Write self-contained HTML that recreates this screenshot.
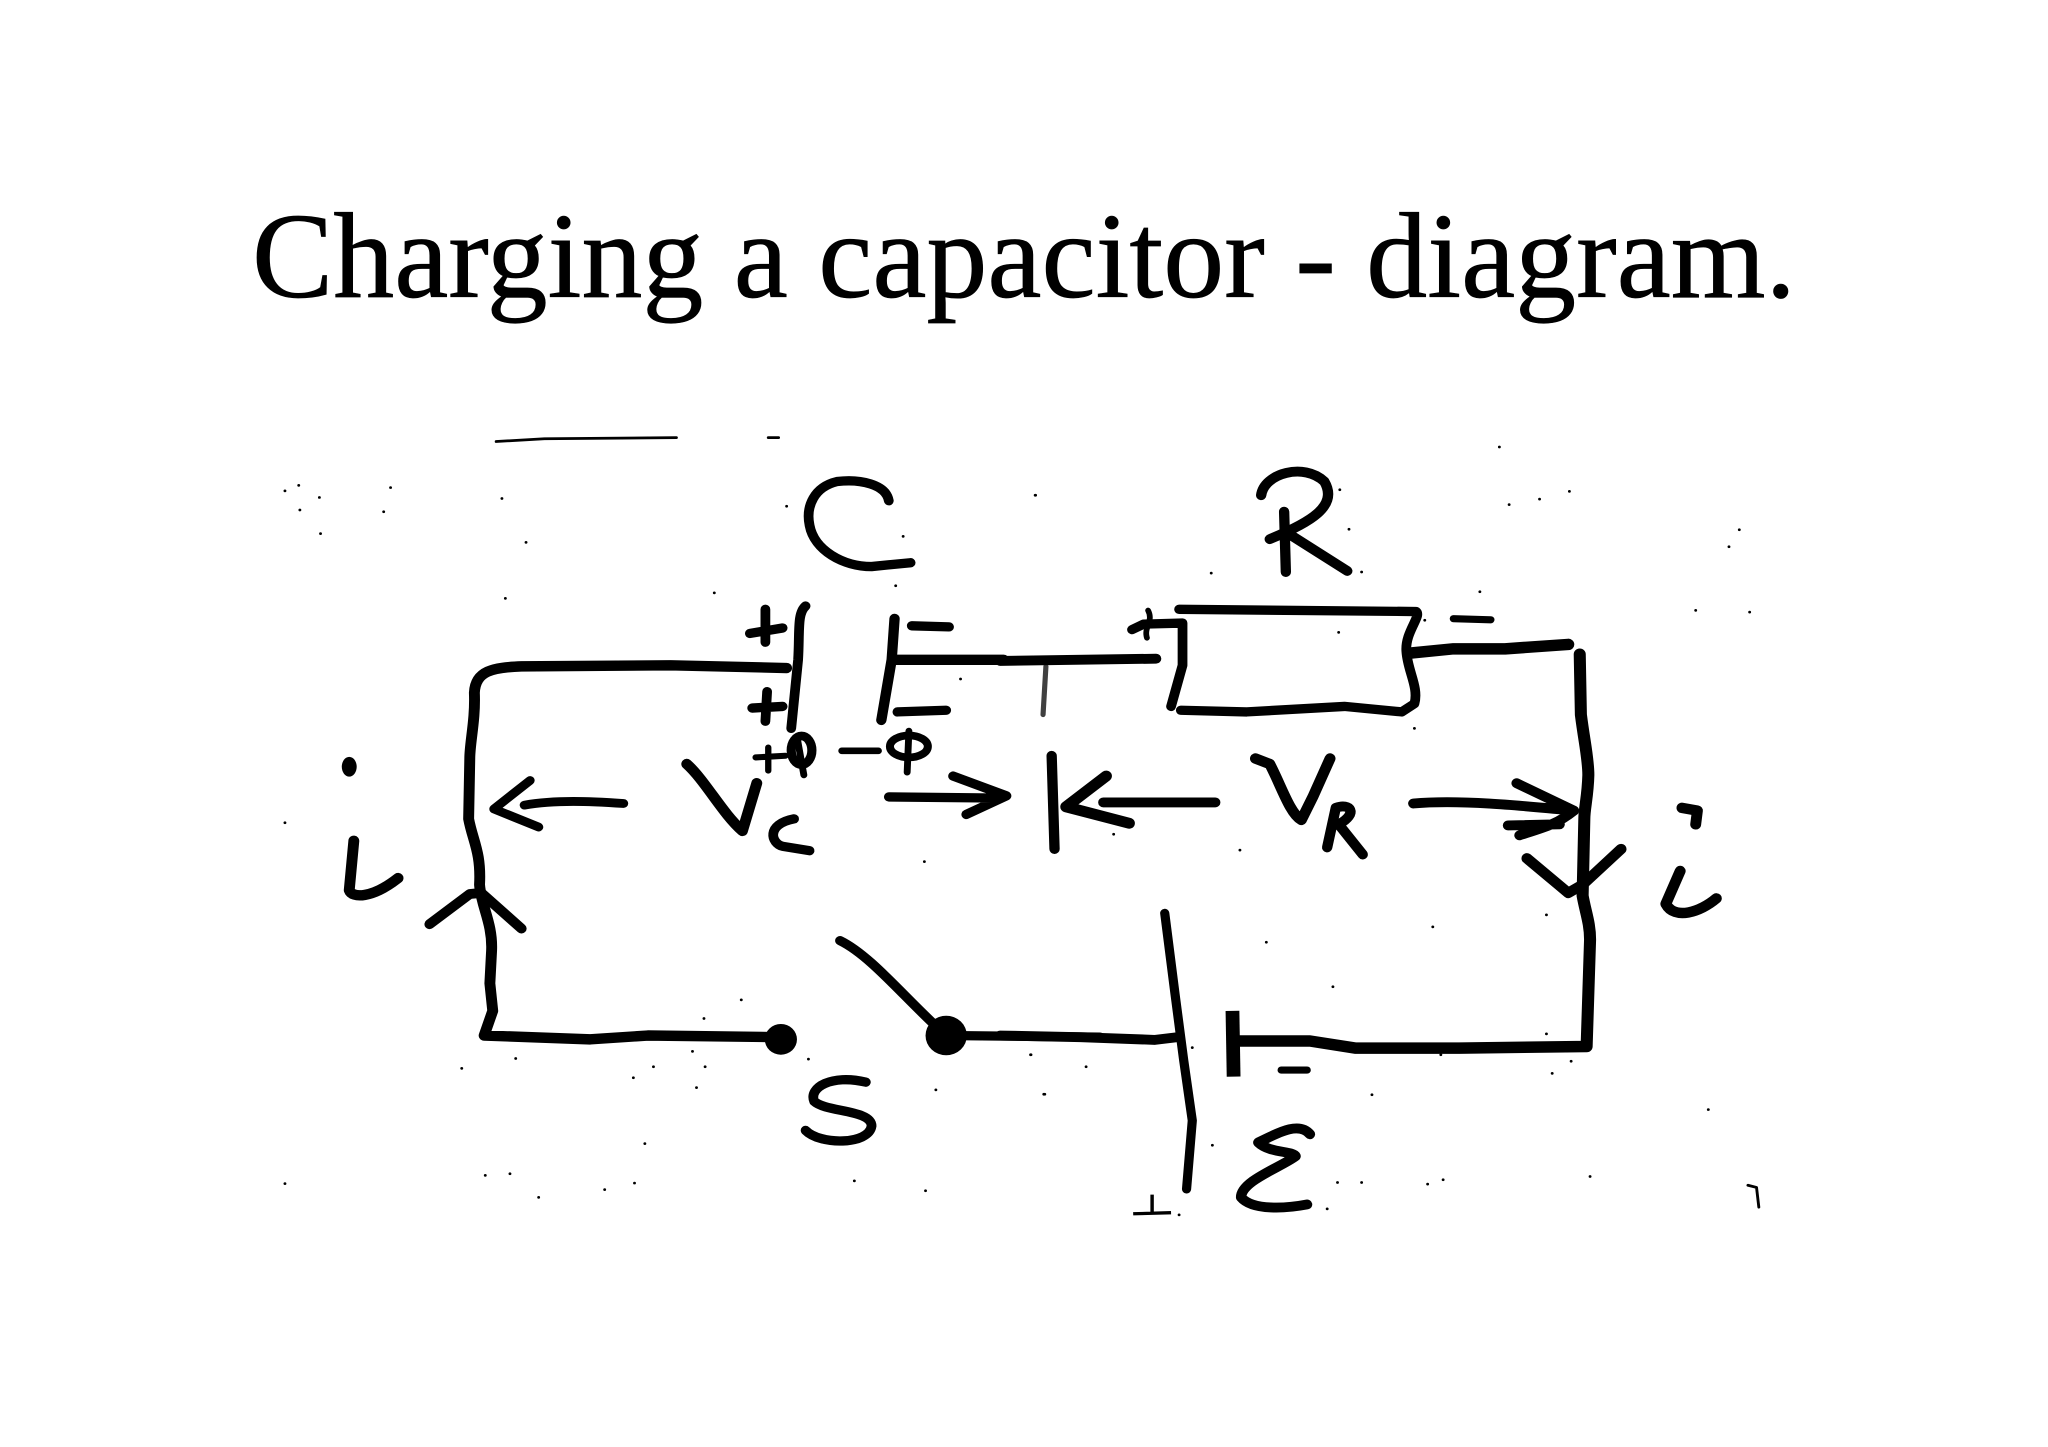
<!DOCTYPE html>
<html>
<head>
<meta charset="utf-8">
<title>Charging a capacitor - diagram</title>
<style>
html,body{margin:0;padding:0;background:#fff}
svg{display:block}
.s{fill:none;stroke:#000;stroke-linecap:round;stroke-linejoin:round}
</style>
</head>
<body>
<svg width="2048" height="1447" viewBox="0 0 2048 1447" xmlns="http://www.w3.org/2000/svg">
<rect width="2048" height="1447" fill="#fff"/>
<text x="252" y="297" font-family="'Liberation Serif',serif" font-size="122" textLength="1544" lengthAdjust="spacingAndGlyphs" fill="#000" stroke="#000" stroke-width=".7">Charging a capacitor - diagram.</text>

<g transform="translate(200,402) scale(.574,.5485)">
<path class="s" stroke-width="5" d="M516 72L600 67L830 65M990 65H1008"/>
<g class="s" stroke-width="17">
<path d="M1200 180C1195 150 1150 140 1110 145C1070 155 1055 190 1062 225C1070 270 1120 300 1170 300L1238 293"/>
<path d="M1055 372C1040 385 1045 420 1042 470L1030 595"/>
<path d="M958 422L1015 412M985 378V438M962 558L1015 555M988 528L985 582"/>
<path stroke-width="19" d="M1022 485L820 480L560 482C510 484 480 490 478 530C480 580 470 620 470 650L468 760C475 800 490 820 487 880C490 920 510 950 508 1000L505 1060L510 1110L495 1155L680 1162L780 1155L1010 1158"/>
<path stroke-width="18" d="M400 952L470 897L490 895L560 960"/>
<path stroke-width="19" d="M268 800L260 890C265 905 300 905 345 868"/>
<path stroke-width="16" d="M575 690L512 742L590 775M565 735C620 725 680 728 738 732"/>
<path stroke-width="19" d="M848 660C880 690 910 750 945 782L970 695"/>
<path d="M1035 760C985 770 995 805 1015 810L1062 818"/>
<path stroke-width="11" d="M968 648L1020 645M990 630V672"/>
<ellipse stroke-width="16" cx="1048" cy="635" rx="18" ry="26"/>
<path stroke-width="12" d="M1040 610L1052 680M1118 636H1182M1235 600L1232 675"/>
<ellipse stroke-width="14" cx="1235" cy="628" rx="33" ry="20"/>
<path stroke-width="18" d="M1210 395L1205 470L1187 580"/>
<path d="M1240 408L1305 410M1215 565L1300 562"/>
<path stroke-width="19" d="M1210 470H1400"/>
<path d="M1200 720L1380 722M1312 682L1405 718L1335 752"/>
<path d="M1115 982C1170 1010 1230 1090 1300 1155"/>
<path d="M1300 1155L1568 1158"/>
<path d="M1160 1240C1100 1225 1060 1250 1070 1275C1090 1295 1170 1290 1170 1320C1165 1355 1080 1355 1055 1328"/>
</g>
<circle cx="1012" cy="1162" r="28"/>
<circle cx="1300" cy="1155" r="36"/>
<ellipse cx="260" cy="665" rx="13" ry="18"/>
<path class="s" stroke-width="5" d="M148 162h0M172 152h0M208 174h0M174 197h0M320 200h0M332 156h0M210 240h0M526 176h0M568 256h0M532 358h0M896 348h0M1022 190h0M1225 245h0M1212 335h0M1325 505h0M1455 170h0M148 767h0M1262 838h0M943 1090h0M878 1124h0M550 1197h0M456 1215h0M790 1212h0M858 1184h0M880 1212h0M755 1232h0M865 1250h0M1060 1198h0M1282 1254h0M1470 1262h0M1447 1190h0M775 1352h0M148 1425h0M497 1410h0M540 1407h0M590 1450h0M705 1436h0M757 1424h0M1140 1420h0M1264 1438h0"/>
</g>

<g transform="translate(1000,402) scale(.574,.5485)">
<g class="s" stroke-width="18">
<path d="M0 472L272 468"/>
<path stroke-width="9" opacity=".75" d="M80 482L75 570"/>
<path d="M90 645L95 815"/>
<path stroke-width="20" d="M185 682L115 738L225 768"/>
<path d="M180 730H375"/>
<path stroke-width="17" d="M312 378L725 382C735 390 705 420 708 455C710 490 730 520 722 550L700 565L600 555L430 565L315 562"/>
<path stroke-width="17" d="M230 415L250 405L318 403V480L298 555"/>
<path stroke-width="10" d="M258 380C268 400 250 410 256 430"/>
<path stroke-width="21" d="M712 458L790 450H880L990 442"/>
<path stroke-width="13" d="M790 395L855 397M490 1218H535"/>
<path d="M455 170C460 130 530 110 565 145C590 190 540 220 470 250"/>
<path d="M495 200L498 310M510 245L605 308"/>
<path stroke-width="21" d="M1010 460L1012 570C1018 620 1025 650 1025 680C1024 720 1018 740 1018 760L1015 900C1020 930 1028 950 1028 980L1022 1175L800 1178H620L540 1165H410"/>
<path stroke-width="24" stroke-linecap="butt" d="M405 1110L407 1230"/>
<path stroke-width="16" d="M287 932L305 1080L320 1200L335 1310L325 1435"/>
<path d="M0 1155L140 1158L270 1163L310 1158"/>
<path stroke-width="6" stroke-linecap="butt" d="M232 1480L298 1478M265 1445V1480"/>
<path d="M540 1335C520 1310 480 1335 450 1350C470 1370 510 1365 515 1375C490 1395 420 1420 420 1450C440 1475 500 1470 535 1463"/>
<path stroke-width="19" d="M445 650L470 660C490 700 505 750 525 762L545 720L575 650"/>
<path d="M570 812L585 740C610 730 625 750 590 770L632 825"/>
<path d="M720 732C800 725 900 735 1000 745M900 695L1000 745C970 770 950 775 905 790M885 772L975 770"/>
<path stroke-width="19" d="M918 832L990 895L1015 880L1082 815"/>
<path stroke-width="19" d="M1188 740L1215 745L1212 770"/>
<path stroke-width="19" d="M1185 855L1160 915C1175 945 1220 930 1248 905"/>
</g>
<path class="s" stroke-width="5" d="M870 82h0M62 170h0M592 160h0M608 232h0M887 187h0M940 177h0M992 163h0M1288 233h0M1270 264h0M1212 380h0M1306 383h0M836 346h0M368 312h0M630 310h0M740 398h0M590 420h0M722 595h0M198 788h0M418 817h0M952 935h0M754 957h0M464 985h0M580 1066h0M335 1177h0M54 1190h0M150 1212h0M78 1262h0M648 1263h0M768 1190h0M952 1152h0M995 1202h0M962 1224h0M1234 1290h0M370 1355h0M588 1423h0M630 1423h0M745 1426h0M772 1418h0M1028 1412h0M570 1471h0M312 1482h0"/>
<path class="s" stroke-width="5" d="M1303 1428L1318 1432L1322 1468"/>
</g>
</svg>
</body>
</html>
